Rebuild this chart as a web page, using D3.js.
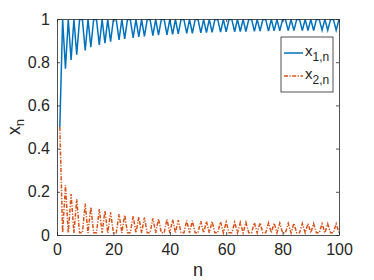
<!DOCTYPE html>
<html>
<head>
<meta charset="utf-8">
<script src="https://cdn.jsdelivr.net/npm/d3@7"></script>
<style>
  body { margin: 0; background: #fff; }
  svg { font-family: "Liberation Sans", Arial, sans-serif; }
</style>
</head>
<body>
<div id="chart"></div>
<script>
// n = 1..100
const nValues = d3.range(1, 101);

// x_{1,n}
const x1Values = [
  0.5, 0.998, 0.77, 0.998, 0.81, 0.998, 0.835, 0.998, 0.998, 0.855,
  0.998, 0.87, 0.998, 0.998, 0.88, 0.998, 0.888, 0.998, 0.895, 0.998,
  0.998, 0.903, 0.998, 0.908, 0.998, 0.998, 0.913, 0.998, 0.917, 0.998,
  0.92, 0.998, 0.998, 0.923, 0.998, 0.925, 0.998, 0.998, 0.927, 0.998,
  0.929, 0.998, 0.931, 0.998, 0.998, 0.933, 0.998, 0.934, 0.998, 0.998,
  0.936, 0.998, 0.937, 0.998, 0.938, 0.998, 0.998, 0.939, 0.998, 0.94,
  0.998, 0.998, 0.941, 0.998, 0.942, 0.998, 0.942, 0.998, 0.998, 0.943,
  0.998, 0.944, 0.998, 0.998, 0.944, 0.998, 0.945, 0.998, 0.945, 0.998,
  0.998, 0.946, 0.998, 0.946, 0.998, 0.998, 0.947, 0.998, 0.947, 0.998,
  0.947, 0.998, 0.998, 0.948, 0.998, 0.948, 0.998, 0.998, 0.948, 0.998
];

// x_{2,n}
const x2Values = [
  0.5, 0.01, 0.23, 0.01, 0.19, 0.01, 0.165, 0.01, 0.01, 0.145,
  0.01, 0.13, 0.01, 0.01, 0.12, 0.01, 0.112, 0.01, 0.105, 0.01,
  0.01, 0.097, 0.01, 0.092, 0.01, 0.01, 0.087, 0.01, 0.083, 0.01,
  0.08, 0.01, 0.01, 0.077, 0.01, 0.075, 0.01, 0.01, 0.073, 0.01,
  0.071, 0.01, 0.069, 0.01, 0.01, 0.067, 0.01, 0.066, 0.01, 0.01,
  0.064, 0.01, 0.063, 0.01, 0.062, 0.01, 0.01, 0.061, 0.01, 0.06,
  0.01, 0.01, 0.059, 0.01, 0.058, 0.01, 0.058, 0.01, 0.01, 0.057,
  0.01, 0.056, 0.01, 0.01, 0.056, 0.01, 0.055, 0.01, 0.055, 0.01,
  0.01, 0.054, 0.01, 0.054, 0.01, 0.01, 0.053, 0.01, 0.053, 0.01,
  0.053, 0.01, 0.01, 0.052, 0.01, 0.052, 0.01, 0.01, 0.052, 0.01
];

const xTicks = [0, 20, 40, 60, 80, 100];
const yTicks = [0, 0.2, 0.4, 0.6, 0.8, 1];

const series = [
  { name: "1,n", values: x1Values, color: "#0072BD", dash: null },
  { name: "2,n", values: x2Values, color: "#D95319", dash: "4,1.5,1.2,1.5" }
];

const W = 374, H = 280;
const margin = { top: 19, right: 35, bottom: 45, left: 57 };
const width = W - margin.left - margin.right;
const height = H - margin.top - margin.bottom;

const svg = d3.select("#chart").append("svg")
  .attr("width", W)
  .attr("height", H);

const g = svg.append("g")
  .attr("transform", `translate(${margin.left},${margin.top})`);

const x = d3.scaleLinear().domain([0, 100]).range([0, width]);
const y = d3.scaleLinear().domain([0, 1]).range([height, 0]);

svg.append("defs").append("clipPath").attr("id", "clip")
  .append("rect").attr("width", width).attr("height", height);

// data lines
const line = d3.line()
  .x((d, i) => x(nValues[i]))
  .y(d => y(d));

series.forEach(s => {
  g.append("path")
    .datum(s.values)
    .attr("clip-path", "url(#clip)")
    .attr("fill", "none")
    .attr("stroke", s.color)
    .attr("stroke-width", 1.5)
    .attr("stroke-dasharray", s.dash)
    .attr("d", line);
});

// axes (ticks inward, box on)
const axisColor = "#262626";
function styleAxis(sel) {
  sel.selectAll("path").attr("stroke", axisColor).attr("stroke-width", 0.8);
  sel.selectAll("line").attr("stroke", axisColor).attr("stroke-width", 0.8);
  sel.selectAll("text").attr("fill", axisColor).attr("font-size", 16)
    .attr("font-family", "Liberation Sans");
}

g.append("g")
  .attr("transform", `translate(0,${height})`)
  .call(d3.axisBottom(x).tickValues(xTicks).tickFormat(d3.format("d"))
    .tickSizeInner(-3).tickSizeOuter(0).tickPadding(9))
  .call(styleAxis);

g.append("g")
  .call(d3.axisLeft(y).tickValues(yTicks).tickFormat(d => d === 0 || d === 1 ? d : d.toFixed(1))
    .tickSizeInner(-3).tickSizeOuter(0).tickPadding(7))
  .call(styleAxis);

g.append("g")
  .call(d3.axisTop(x).tickValues(xTicks).tickFormat("")
    .tickSizeInner(-3).tickSizeOuter(0))
  .call(styleAxis);

g.append("g")
  .attr("transform", `translate(${width},0)`)
  .call(d3.axisRight(y).tickValues(yTicks).tickFormat("")
    .tickSizeInner(-3).tickSizeOuter(0))
  .call(styleAxis);

// axis labels
svg.append("text")
  .attr("x", margin.left + width / 2)
  .attr("y", 276)
  .attr("text-anchor", "middle")
  .attr("font-size", 18)
  .attr("fill", axisColor)
  .text("n");

const yl = svg.append("text")
  .attr("transform", `translate(20,${margin.top + height / 2}) rotate(-90)`)
  .attr("text-anchor", "middle")
  .attr("font-size", 18)
  .attr("fill", axisColor);
yl.append("tspan").text("x");
yl.append("tspan").attr("font-size", 13).attr("dy", 4).text("n");

// legend
const legend = svg.append("g").attr("transform", "translate(281,37)");
legend.append("rect")
  .attr("width", 52).attr("height", 55)
  .attr("fill", "#fff")
  .attr("stroke", "#262626")
  .attr("stroke-width", 0.8);

series.forEach((s, i) => {
  const row = legend.append("g").attr("transform", `translate(0,${16 + i * 23})`);
  row.append("line")
    .attr("x1", 3).attr("x2", 22)
    .attr("stroke", s.color)
    .attr("stroke-width", 1.5)
    .attr("stroke-dasharray", s.dash);
  const t = row.append("text")
    .attr("x", 24).attr("y", 3)
    .attr("font-size", 15)
    .attr("fill", axisColor);
  t.append("tspan").text("x");
  t.append("tspan").attr("font-size", 12).attr("dy", 5).text(s.name);
});
</script>
</body>
</html>
